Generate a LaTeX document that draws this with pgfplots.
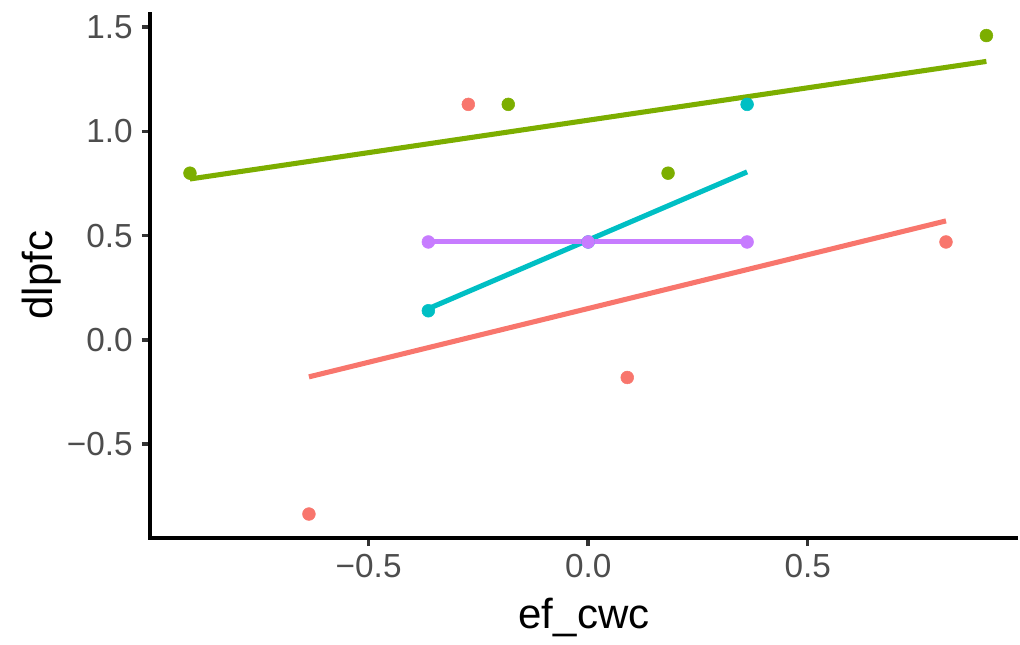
\documentclass[border=0pt]{standalone}
\usepackage{fontspec}
\setmainfont{Liberation Sans}
\usepackage{pgfplots}
\pgfplotsset{compat=1.18}
\definecolor{cR}{HTML}{F8766D}
\definecolor{cG}{HTML}{7CAE00}
\definecolor{cB}{HTML}{00BFC4}
\definecolor{cP}{HTML}{C77CFF}
\definecolor{tickc}{HTML}{333333}
\definecolor{labc}{HTML}{4D4D4D}
\begin{document}
\begin{tikzpicture}
\begin{axis}[
  name=ax,
  scale only axis,
  width=651pt, height=394.5pt,
  xmin=-0.998, xmax=0.979,
  ymin=-0.950, ymax=1.573,
  axis lines*=left,
  axis line style={black, line width=2.6pt, shorten <=-1.3pt},
  xtick={-0.5,0,0.5},
  ytick={-0.5,0,0.5,1,1.5},
  xticklabels={−0.5,0.0,0.5},
  yticklabels={−0.5,0.0,0.5,1.0,1.5},
  tick align=outside,
  major tick length=6pt,
  tick style={tickc, line width=2.6pt},
  ticklabel style={font=\fontsize{25}{29}\selectfont, text=labc},
  xticklabel style={yshift=-3pt},
  yticklabel style={xshift=-3.5pt},
  xlabel={ef\_cwc},
  ylabel={dlpfc},
  label style={font=\fontsize{31.5}{36}\selectfont, text=black},
  xlabel style={at={(axis description cs:0.5,-0.152)}, anchor=center},
  ylabel style={at={(axis description cs:-0.125,0.5)}, anchor=center},
  clip=false,
]
% points
\addplot[only marks, mark=*, mark size=4.8pt, cR, mark options={draw=none, fill=cR}] coordinates {
  (-0.636,-0.835) (-0.273,1.13) (0.089,-0.18) (0.815,0.47)};
\addplot[only marks, mark=*, mark size=4.8pt, cG, mark options={draw=none, fill=cG}] coordinates {
  (-0.907,0.80) (-0.182,1.13) (0.182,0.80) (0.907,1.46)};
\addplot[only marks, mark=*, mark size=4.8pt, cB, mark options={draw=none, fill=cB}] coordinates {
  (-0.364,0.14) (0,0.47) (0.362,1.13)};
\addplot[only marks, mark=*, mark size=4.8pt, cP, mark options={draw=none, fill=cP}] coordinates {
  (-0.364,0.47) (0,0.47) (0.362,0.47)};
% fitted lines
\addplot[cR, line width=3.8pt, no marks] coordinates {(-0.636,-0.177) (0.815,0.571)};
\addplot[cG, line width=3.8pt, no marks] coordinates {(-0.907,0.772) (0.907,1.336)};
\addplot[cB, line width=3.8pt, no marks] coordinates {(-0.364,0.150) (0.362,0.806)};
\addplot[cP, line width=3.8pt, no marks] coordinates {(-0.364,0.47) (0.362,0.47)};
\end{axis}
\pgfresetboundingbox
\path ([shift={(-112.5pt,-79.5pt)}]ax.south west) rectangle ([shift={(1.5pt,9pt)}]ax.north east);
\end{tikzpicture}
\end{document}
